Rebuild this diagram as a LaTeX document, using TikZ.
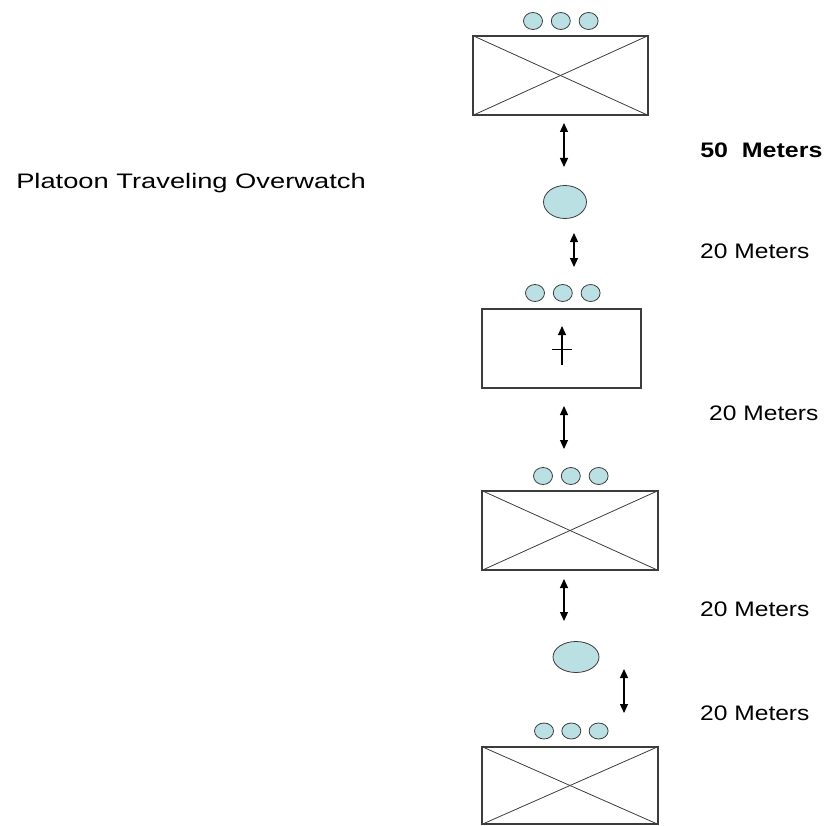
\documentclass[tikz,border=0pt]{standalone}
\usepackage{fontspec}
\setmainfont{Liberation Sans}
\usetikzlibrary{positioning,arrows.meta,shapes.geometric}
\definecolor{teamblue}{RGB}{187,224,227}
\definecolor{outline}{RGB}{60,60,60}
\newcommand{\meterfont}{\fontsize{21}{21}\selectfont}

\begin{document}
\begin{tikzpicture}[x=1pt,y=-1pt,
	squad/.style={draw=outline, line width=1.1pt, minimum height=79pt, inner sep=0pt},
	dot/.style={ellipse, draw=outline, fill=teamblue, line width=0.8pt, minimum width=19pt, minimum height=17pt, inner sep=0pt},
	leader/.style={ellipse, draw=outline, fill=teamblue, line width=0.8pt, inner sep=0pt},
	distarrow/.style={{Triangle[width=8pt,length=9pt]}-{Triangle[width=8pt,length=9pt]}, line width=1.2pt},
	dist/.style={anchor=west, font=\meterfont, inner sep=0pt}]
	\useasboundingbox (0,0) rectangle (824,826);

	% squads
	\node[squad, minimum width=175pt] (sq1) at (560.5,75.5) {};
	\node[squad, minimum width=159pt] (hq) at (561.5,348.5) {};
	\node[squad, minimum width=176pt] (sq2) at (570,530.5) {};
	\node[squad, minimum width=176pt, minimum height=77pt] (sq3) at (570,785.5) {};
	\foreach \s in {sq1,sq2,sq3} {
		\draw[outline, line width=0.8pt] (\s.north west) -- (\s.south east);
		\draw[outline, line width=0.8pt] (\s.south west) -- (\s.north east);
	}

	% headquarters symbol
	\coordinate (hqbase) at (562,365);
	\coordinate (hqtip) at (562,326);
	\draw[-{Triangle[width=8pt,length=9pt]}, line width=1.1pt] (hqbase) -- (hqtip);
	\coordinate (barl) at (552,349);
	\coordinate (barr) at (572,349);
	\draw[line width=0.9pt] (barl) -- (barr);

	% fire teams
	\node[dot] (t1a) at (533,21) {};
	\node[dot, right=8pt of t1a] (t1b) {};
	\node[dot, right=8pt of t1b] (t1c) {};
	\node[dot] (t2a) at (535,293) {};
	\node[dot, right=8pt of t2a] (t2b) {};
	\node[dot, right=8pt of t2b] (t2c) {};
	\node[dot] (t3a) at (543,476) {};
	\node[dot, right=8pt of t3a] (t3b) {};
	\node[dot, right=8pt of t3b] (t3c) {};
	\node[dot, minimum height=16pt] (t4a) at (544,731) {};
	\node[dot, minimum height=16pt, right=7.5pt of t4a] (t4b) {};
	\node[dot, minimum height=16pt, right=7.5pt of t4b] (t4c) {};

	% leaders
	\node[leader, minimum width=43pt, minimum height=33pt] (pl) at (565,202) {};
	\node[leader, minimum width=46pt, minimum height=31pt] (psg) at (576,657) {};

	% distances
	\foreach \n/\x/\ya/\yb in {1/564/123/167, 2/574/233/267, 3/564/406/449, 4/564/579/621, 5/624/669/713} {
		\coordinate (up\n) at (\x,\ya);
		\coordinate (dn\n) at (\x,\yb);
		\draw[distarrow] (up\n) -- (dn\n);
	}
	\node[dist, font=\meterfont\bfseries, xscale=1.19] (d1) at (700,150) {50\ \ Meters};
	\node[dist, xscale=1.17] (d2) at (700,251) {20 Meters};
	\node[dist, xscale=1.17] (d3) at (709,413) {20 Meters};
	\node[dist, xscale=1.17] (d4) at (700,609) {20 Meters};
	\node[dist, xscale=1.17] (d5) at (700,713) {20 Meters};

	\node[dist, xscale=1.3] (title) at (16,183) {Platoon Traveling Overwatch};
\end{tikzpicture}
\end{document}
